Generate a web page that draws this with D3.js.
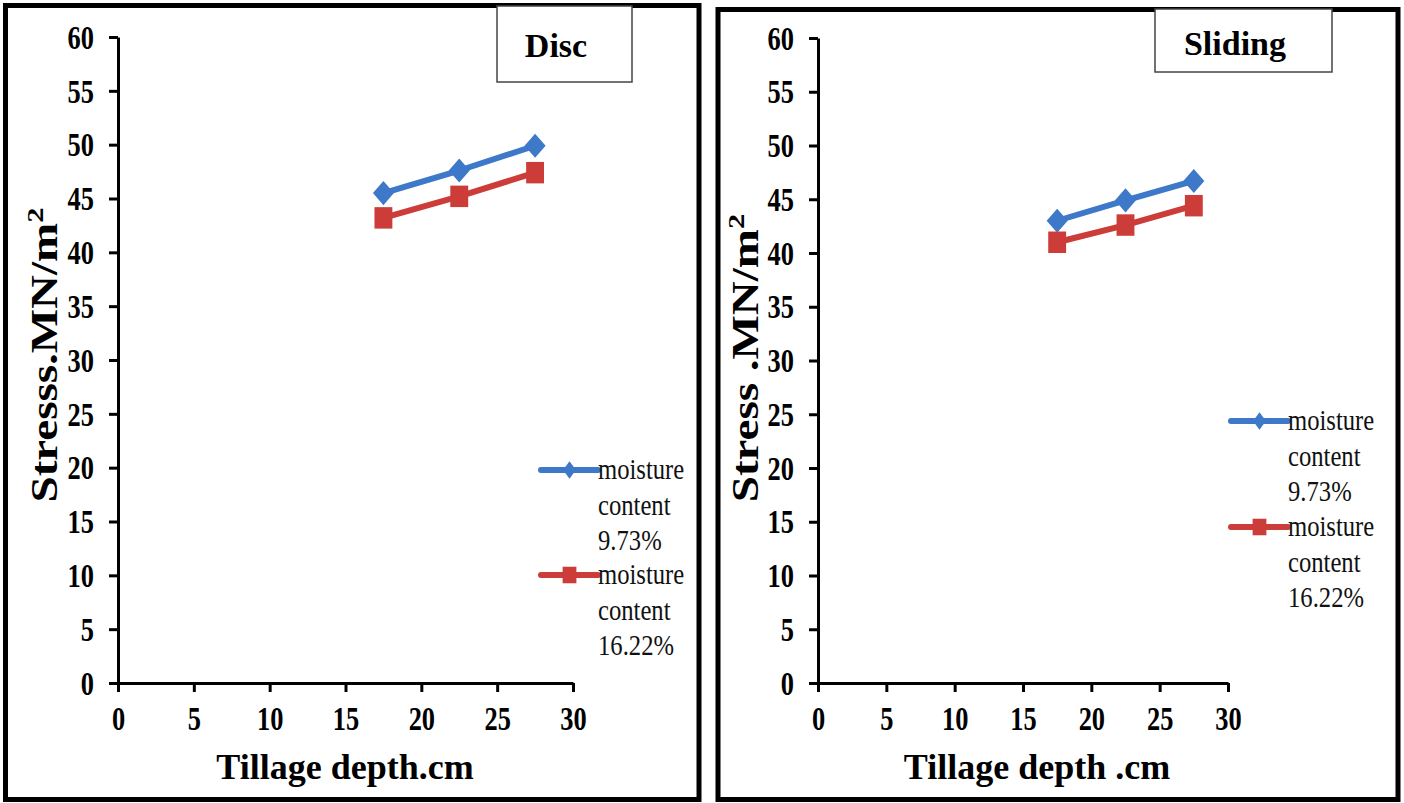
<!DOCTYPE html>
<html>
<head>
<meta charset="utf-8">
<script src="https://cdn.jsdelivr.net/npm/d3@7"></script>
<style>
  html, body { margin: 0; padding: 0; background: #fff; }
  svg { display: block; }
  text { font-family: "Liberation Serif", "Times New Roman", serif; }
</style>
</head>
<body>
<svg id="chart" width="1404" height="803"></svg>
<script>
// ---------- data ----------
const depths = [17.5, 22.5, 27.5];
const discMoist973 = [45.5, 47.6, 49.9];
const discMoist1622 = [43.2, 45.2, 47.4];
const slidingMoist973 = [43.0, 44.9, 46.7];
const slidingMoist1622 = [41.0, 42.6, 44.4];
const xTickValues = [0, 5, 10, 15, 20, 25, 30];
const yTickValues = [0, 5, 10, 15, 20, 25, 30, 35, 40, 45, 50, 55, 60];
const seriesNames = ["moisture content 9.73%", "moisture content 16.22%"];
const legendLines = [["moisture", "content", "9.73%"], ["moisture", "content", "16.22%"]];
const panelTitles = ["Disc", "Sliding"];
const xTitles = ["Tillage depth.cm", "Tillage depth .cm"];
const yTitles = ["Stresss.MN/m", "Stress .MN/m"];

// ---------- styles / layout ----------
const colors = ["#3d78c9", "#cc3d3a"];
const svg = d3.select("#chart");

const panels = [
  {
    frame: {x: 5.5, y: 5.5, w: 693.5, h: 794},
    plot: {x0: 118, x1: 573, y0: 683, y1: 37},
    titleBox: {x: 497, y: 6, w: 135, h: 76, tx: 556, ty: 57},
    title: panelTitles[0],
    xTitle: xTitles[0], xTitleX: 345, xTitleY: 779,
    yTitle: yTitles[0], yTitleX: 57, yTitleY: 355,
    legend: {x: 541, y: [470, 575], lineLen: 57, dy: 35.5, base: 9},
    series: [discMoist973, discMoist1622]
  },
  {
    frame: {x: 718, y: 9.5, w: 680, h: 790},
    plot: {x0: 818, x1: 1228, y0: 683, y1: 38},
    titleBox: {x: 1155, y: 9, w: 177, h: 63, tx: 1235, ty: 55},
    title: panelTitles[1],
    xTitle: xTitles[1], xTitleX: 1037, xTitleY: 779,
    yTitle: yTitles[1], yTitleX: 758, yTitleY: 358,
    legend: {x: 1231, y: [421, 527], lineLen: 57, dy: 35.5, base: 9},
    series: [slidingMoist973, slidingMoist1622]
  }
];

const sq = d3.symbol().type(d3.symbolSquare);
const tickScaleX = 0.8;
const legendScaleX = 0.85;

panels.forEach(p => {
  const g = svg.append("g");

  // frame
  g.append("rect")
    .attr("x", p.frame.x).attr("y", p.frame.y)
    .attr("width", p.frame.w).attr("height", p.frame.h)
    .attr("fill", "none").attr("stroke", "#000").attr("stroke-width", 5);

  // title box
  g.append("rect")
    .attr("x", p.titleBox.x).attr("y", p.titleBox.y)
    .attr("width", p.titleBox.w).attr("height", p.titleBox.h)
    .attr("fill", "#fff").attr("stroke", "#444").attr("stroke-width", 1.5);
  g.append("text")
    .attr("x", p.titleBox.tx).attr("y", p.titleBox.ty)
    .attr("text-anchor", "middle")
    .attr("font-weight", "bold").attr("font-size", 34)
    .text(p.title);

  const x = d3.scaleLinear().domain([0, 30]).range([p.plot.x0, p.plot.x1]);
  const y = d3.scaleLinear().domain([0, 60]).range([p.plot.y0, p.plot.y1]);

  // y axis
  const ya = g.append("g")
    .attr("transform", `translate(${p.plot.x0},0)`)
    .call(d3.axisLeft(y).tickValues(yTickValues).tickSize(9).tickSizeOuter(0));
  ya.select(".domain").attr("stroke", "#000").attr("stroke-width", 3);
  ya.selectAll(".tick line").attr("stroke", "#000").attr("stroke-width", 3);
  ya.selectAll(".tick text")
    .attr("font-weight", "bold")
    .attr("font-size", 33).attr("fill", "#000")
    .attr("x", -24 / tickScaleX)
    .attr("dy", "0.34em")
    .attr("transform", `scale(${tickScaleX},1)`);

  // x axis
  const xa = g.append("g")
    .attr("transform", `translate(0,${p.plot.y0})`)
    .call(d3.axisBottom(x).tickValues(xTickValues).tickSize(9).tickSizeOuter(0));
  xa.select(".domain").attr("stroke", "#000").attr("stroke-width", 3);
  xa.selectAll(".tick line").attr("stroke", "#000").attr("stroke-width", 3);
  xa.selectAll(".tick text")
    .attr("font-weight", "bold")
    .attr("font-size", 33).attr("fill", "#000")
    .attr("y", 24)
    .attr("transform", `scale(${tickScaleX},1)`);

  // axis titles
  g.append("text")
    .attr("x", p.xTitleX).attr("y", p.xTitleY)
    .attr("text-anchor", "middle")
    .attr("font-weight", "bold").attr("font-size", 36)
    .text(p.xTitle);

  const yt = g.append("text")
    .attr("transform", `translate(${p.yTitleX},${p.yTitleY}) rotate(-90) scale(1.27,1)`)
    .attr("text-anchor", "middle")
    .attr("font-weight", "bold").attr("font-size", 37);
  yt.append("tspan").text(p.yTitle);
  yt.append("tspan").attr("dy", -14).attr("font-size", 24).text("2");

  // series
  const line = d3.line().x((d, i) => x(depths[i])).y(d => y(d));
  p.series.forEach((vals, si) => {
    g.append("path")
      .datum(vals)
      .attr("d", line)
      .attr("fill", "none")
      .attr("stroke", colors[si]).attr("stroke-width", 6)
      .attr("stroke-linejoin", "round");
    g.selectAll(null)
      .data(vals)
      .join("path")
      .attr("transform", (d, i) => si === 0
        ? `translate(${x(depths[i])},${y(d)}) scale(1,1.15) rotate(45)`
        : `translate(${x(depths[i])},${y(d)}) scale(1,1.2)`)
      .attr("d", si === 0 ? sq.size(220)() : sq.size(320)())
      .attr("fill", colors[si]);
  });

  // legend
  legendLines.forEach((lines, si) => {
    const ly = p.legend.y[si];
    g.append("line")
      .attr("x1", p.legend.x).attr("x2", p.legend.x + p.legend.lineLen)
      .attr("y1", ly).attr("y2", ly)
      .attr("stroke", colors[si]).attr("stroke-width", 6).attr("stroke-linecap", "round");
    g.append("path")
      .attr("transform", si === 0
        ? `translate(${p.legend.x + p.legend.lineLen / 2},${ly}) scale(0.8,1.1) rotate(45)`
        : `translate(${p.legend.x + p.legend.lineLen / 2},${ly}) scale(1,1.2)`)
      .attr("d", si === 0 ? sq.size(130)() : sq.size(190)())
      .attr("fill", colors[si]);
    lines.forEach((t, li) => {
      g.append("text")
        .attr("transform", `translate(${p.legend.x + p.legend.lineLen},${ly + p.legend.base + li * p.legend.dy}) scale(${legendScaleX},1)`)
        .attr("font-size", 29)
        .attr("fill", "#111")
        .text(t);
    });
  });
});
</script>
</body>
</html>
